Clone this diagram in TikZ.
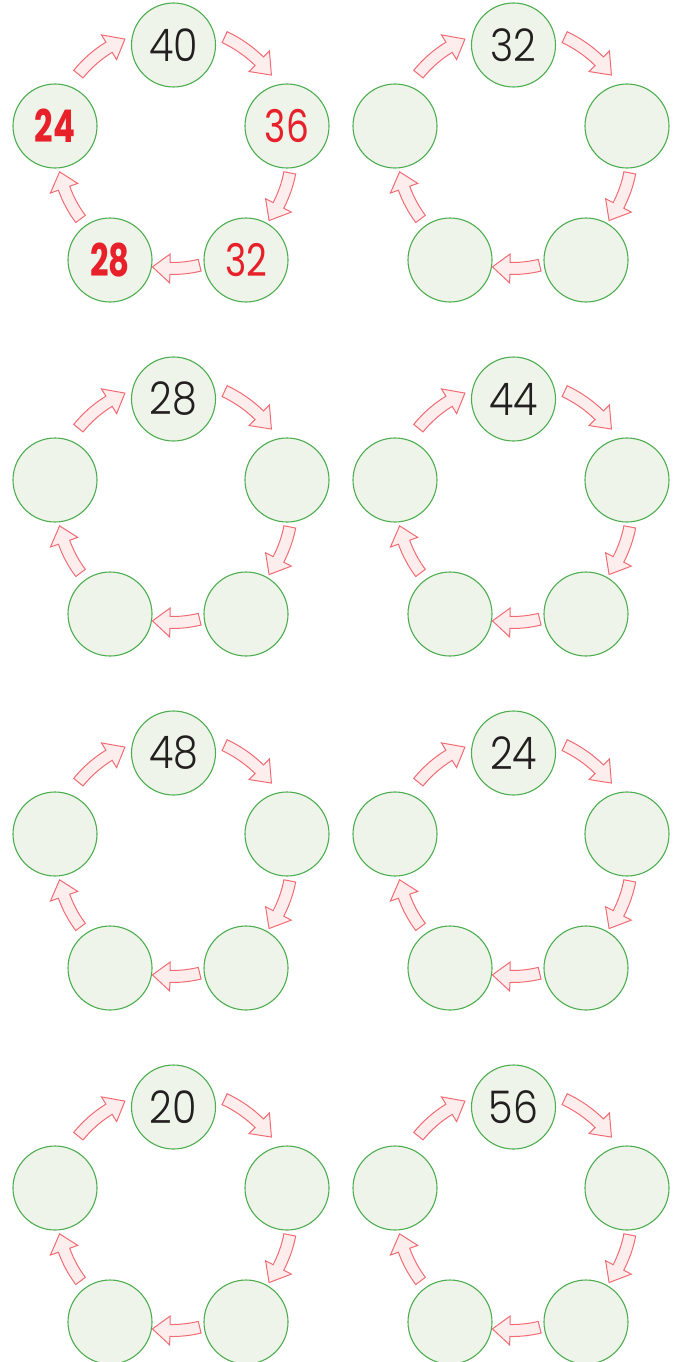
\documentclass[tikz,border=0pt]{standalone}
\usepackage{fontspec}
\usepackage{tikz}
\usetikzlibrary{calc}
\newfontfamily\numfont[FakeStretch=0.88]{Poppins Light}
\newfontfamily\numredfont[FakeStretch=0.8]{Poppins}
\newfontfamily\numboldfont[FakeStretch=0.72]{Poppins Bold}
\definecolor{RingGreen}{HTML}{4DAE50}
\definecolor{PaleGreen}{HTML}{EEF4EA}
\definecolor{ArrowRed}{HTML}{F26B73}
\definecolor{PalePink}{HTML}{FDEDEC}
\definecolor{AnswerRed}{HTML}{E8202A}
\definecolor{InkBlack}{HTML}{231F20}

\newcommand{\redval}[1]{{\numredfont\color{AnswerRed}#1}}
\newcommand{\redbold}[1]{{\numboldfont\color{AnswerRed}#1}}

% one ring of five numbers: name, centre, top, right, bottom right, bottom left, left
\newcommand{\numring}[7]{%
  \begin{scope}[shift={(#2)}]
    \coordinate (#1-c) at (0,0);
    \node[ball] (#1-top) at (1.5,105) {#3};
    \node[ball] (#1-right) at (115,24) {#4};
    \node[ball] (#1-br) at (74,-110) {#5};
    \node[ball] (#1-bl) at (-62,-110) {#6};
    \node[ball] (#1-left) at (-117,24) {#7};
    % arrows: tail angle / tip angle / radius
    \foreach \a/\b/\r in {65/37/124.5,-11/-36/120,-76.5/-99.5/118.5,-143/-169/114.5,141/113/120.5}
      \draw[flowarrow] (\a:{\r+6}) arc[start angle=\a, end angle={\b+8.5}, radius={\r+6}]
        -- ({\b+8.5}:{\r+14.5}) -- (\b:\r) -- ({\b+8.5}:{\r-14.5}) -- ({\b+8.5}:{\r-6})
        arc[start angle={\b+8.5}, end angle=\a, radius={\r-6}] -- cycle;
  \end{scope}}

\begin{document}
\begin{tikzpicture}[x=1pt,y=1pt,
  ball/.style={circle,minimum size=84pt,inner sep=0pt,draw=RingGreen,
    fill=PaleGreen,line width=1.1pt,text=InkBlack,
    font=\numfont\fontsize{45}{45}\selectfont},
  flowarrow/.style={draw=ArrowRed,fill=PalePink,line width=1pt,line join=miter}]
\clip (0,0) rectangle (684,-1362);

\numring{ra}{172,-150}{40}{\redval{36}}{\redval{32}}{\redbold{28}}{\redbold{24}}
\numring{rb}{512,-150}{32}{}{}{}{}
\numring{rc}{172,-504}{28}{}{}{}{}
\numring{rd}{512,-504}{44}{}{}{}{}
\numring{re}{172,-858}{48}{}{}{}{}
\numring{rf}{512,-858}{24}{}{}{}{}
\numring{rg}{172,-1212}{20}{}{}{}{}
\numring{rh}{512,-1212}{56}{}{}{}{}
\end{tikzpicture}
\end{document}
